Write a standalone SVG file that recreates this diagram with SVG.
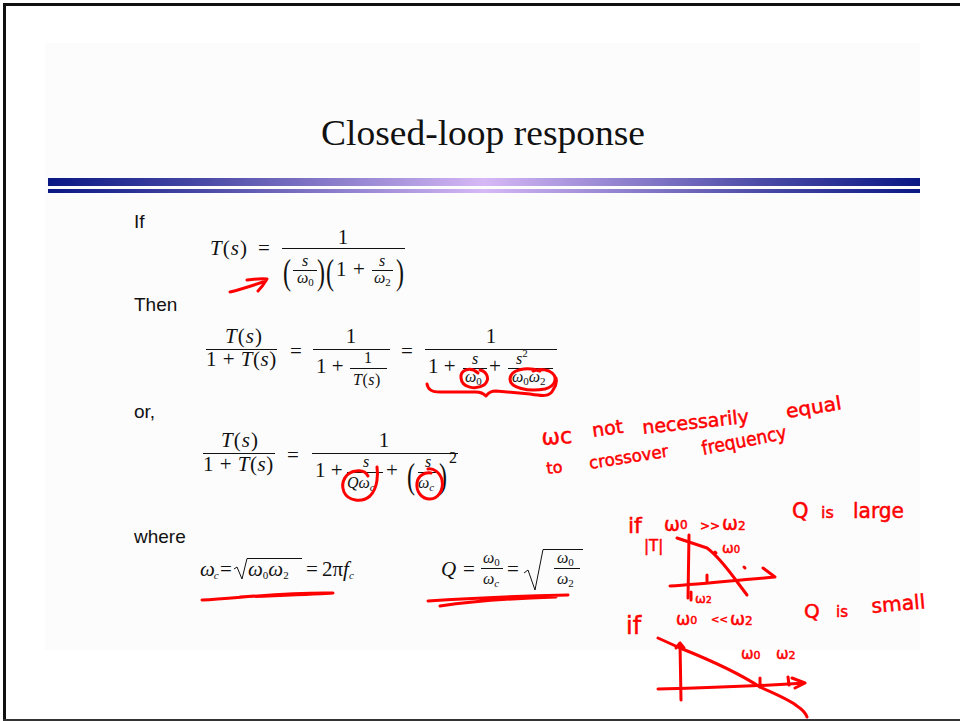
<svg xmlns="http://www.w3.org/2000/svg" width="960" height="721" viewBox="0 0 960 721">
  <defs>
    <linearGradient id="barGrad" x1="0" y1="0" x2="1" y2="0">
      <stop offset="0" stop-color="#0a1884"/>
      <stop offset="0.18" stop-color="#4a4aa6"/>
      <stop offset="0.5" stop-color="#d6b8f6"/>
      <stop offset="0.82" stop-color="#4a4aa6"/>
      <stop offset="1" stop-color="#0a1884"/>
    </linearGradient>
    <style>
      .body { font-family: "Liberation Sans", Arial, sans-serif; font-size: 19px; fill: #111; }
      .m { font-family: "Liberation Serif", "Times New Roman", serif; font-size: 21px; fill: #111; }
      .s { font-family: "Liberation Serif", "Times New Roman", serif; font-size: 16px; fill: #111; }
      .p { font-family: "Liberation Serif", "Times New Roman", serif; font-size: 24px; fill: #111; }
      .i { font-style: italic; }
      .sub { font-size: 11px; }
      .bar { stroke: #111; stroke-width: 1; }
      .rad { stroke: #111; stroke-width: 1; fill: none; }
      .ink { stroke: #ff0000; stroke-width: 3; fill: none; stroke-linecap: round; stroke-linejoin: round; }
      .hw { font-family: "DejaVu Sans", "Liberation Sans", sans-serif; fill: #ff0000; stroke: #ff0000; stroke-width: 0.5; }
    </style>
  </defs>

  <!-- page -->
  <rect x="0" y="0" width="960" height="721" fill="#ffffff"/>
  <rect x="45" y="43" width="875" height="607" fill="#fcfcfc"/>
  <line x1="4.5" y1="3" x2="4.5" y2="721" stroke="#111" stroke-width="3"/>
  <line x1="3" y1="4.5" x2="960" y2="4.5" stroke="#111" stroke-width="3"/>
  <line x1="3" y1="720" x2="960" y2="720" stroke="#333" stroke-width="2"/>

  <!-- title and rule -->
  <g id="title">
    <text x="483" y="145" text-anchor="middle" font-family="Liberation Serif, Times New Roman, serif" font-size="35" fill="#111" textLength="324" lengthAdjust="spacingAndGlyphs">Closed-loop response</text>
    <rect x="48" y="178" width="872" height="8" fill="url(#barGrad)"/>
    <rect x="48" y="189" width="872" height="4" fill="url(#barGrad)"/>
  </g>

  <!-- body labels -->
  <g id="labels">
    <text class="body" x="134" y="228">If</text>
    <text class="body" x="134" y="311">Then</text>
    <text class="body" x="134" y="418">or,</text>
    <text class="body" x="134" y="543">where</text>
  </g>

  <!-- T(s) = 1 / ((s/w0)(1 + s/w2)) -->
  <g id="eq-loop-gain">
    <text class="m" x="210" y="255" letter-spacing="1"><tspan class="i">T</tspan>(<tspan class="i">s</tspan>)</text>
    <text class="m" x="258" y="255">=</text>
    <line class="bar" x1="282" y1="248.5" x2="405" y2="248.5"/>
    <text class="m" x="343" y="244" text-anchor="middle">1</text>
    <text class="p" transform="translate(283 284) scale(1 1.45)">(</text>
    <text class="s i" x="305" y="266" text-anchor="middle">s</text>
    <line class="bar" x1="293" y1="270.5" x2="317" y2="270.5"/>
    <text class="s" x="297" y="283"><tspan class="i">ω</tspan><tspan class="sub" dy="3">0</tspan></text>
    <text class="p" transform="translate(317 284) scale(1 1.45)">)</text>
    <text class="p" transform="translate(326 284) scale(1 1.45)">(</text>
    <text class="m" x="336" y="276">1</text>
    <text class="m" x="353" y="276">+</text>
    <text class="s i" x="382" y="266" text-anchor="middle">s</text>
    <line class="bar" x1="372" y1="270.5" x2="393" y2="270.5"/>
    <text class="s" x="374" y="283"><tspan class="i">ω</tspan><tspan class="sub" dy="3">2</tspan></text>
    <text class="p" transform="translate(396 284) scale(1 1.45)">)</text>
  </g>

  <!-- T/(1+T) = 1/(1+1/T) = 1/(1 + s/w0 + s^2/(w0 w2)) -->
  <g id="eq-closed-loop">
    <text class="m" x="225" y="343" letter-spacing="1"><tspan class="i">T</tspan>(<tspan class="i">s</tspan>)</text>
    <line class="bar" x1="206" y1="349.5" x2="277" y2="349.5"/>
    <text class="m" x="206" y="366" letter-spacing="0.5">1 + <tspan class="i">T</tspan>(<tspan class="i">s</tspan>)</text>
    <text class="m" x="290" y="358">=</text>
    <text class="m" x="351" y="343" text-anchor="middle">1</text>
    <line class="bar" x1="313" y1="349.5" x2="390" y2="349.5"/>
    <text class="m" x="316" y="373">1 +</text>
    <text class="s" x="368" y="363" text-anchor="middle">1</text>
    <line class="bar" x1="350" y1="368.5" x2="387" y2="368.5"/>
    <text class="s" x="353" y="385" letter-spacing="0.5"><tspan class="i">T</tspan>(<tspan class="i">s</tspan>)</text>
    <text class="m" x="401" y="358">=</text>
    <text class="m" x="491" y="343" text-anchor="middle">1</text>
    <line class="bar" x1="425" y1="349.5" x2="557" y2="349.5"/>
    <text class="m" x="428" y="373">1 +</text>
    <text class="s i" x="475" y="364" text-anchor="middle">s</text>
    <line class="bar" x1="463" y1="368.5" x2="487" y2="368.5"/>
    <text class="s" x="465" y="382"><tspan class="i">ω</tspan><tspan class="sub" dy="3">0</tspan></text>
    <text class="m" x="489" y="373">+</text>
    <text class="s" x="516" y="364"><tspan class="i">s</tspan><tspan class="sub" dy="-7">2</tspan></text>
    <line class="bar" x1="508" y1="368.5" x2="553" y2="368.5"/>
    <text class="s" x="512" y="382"><tspan class="i">ω</tspan><tspan class="sub" dy="3">0</tspan><tspan class="i" dy="-3">ω</tspan><tspan class="sub" dy="3">2</tspan></text>
  </g>

  <!-- T/(1+T) = 1/(1 + s/(Q wc) + (s/wc)^2) -->
  <g id="eq-second-order">
    <text class="m" x="221" y="447" letter-spacing="1"><tspan class="i">T</tspan>(<tspan class="i">s</tspan>)</text>
    <line class="bar" x1="203" y1="453.5" x2="275" y2="453.5"/>
    <text class="m" x="203" y="471" letter-spacing="0.5">1 + <tspan class="i">T</tspan>(<tspan class="i">s</tspan>)</text>
    <text class="m" x="287" y="462">=</text>
    <text class="m" x="384" y="447" text-anchor="middle">1</text>
    <line class="bar" x1="312" y1="453.5" x2="458" y2="453.5"/>
    <text class="m" x="315" y="477">1 +</text>
    <text class="s i" x="366" y="467" text-anchor="middle">s</text>
    <line class="bar" x1="347" y1="472.5" x2="383" y2="472.5"/>
    <text class="s" x="347" y="488"><tspan class="i">Q</tspan><tspan class="i">ω</tspan><tspan class="sub i" dy="3">c</tspan></text>
    <text class="m" x="386" y="477">+</text>
    <text class="p" transform="translate(407 488) scale(1 1.45)">(</text>
    <text class="s i" x="428" y="467" text-anchor="middle">s</text>
    <line class="bar" x1="418" y1="472.5" x2="438" y2="472.5"/>
    <text class="s" x="418" y="488"><tspan class="i">ω</tspan><tspan class="sub i" dy="3">c</tspan></text>
    <text class="p" transform="translate(439 488) scale(1 1.45)">)</text>
    <text class="s" x="449" y="463" font-size="12">2</text>
  </g>

  <!-- wc and Q definitions -->
  <g id="eq-definitions">
    <text class="m" x="200" y="576"><tspan class="i">ω</tspan><tspan class="sub i" dy="3" dx="-1">c</tspan></text>
    <text class="m" x="220" y="576">=</text>
    <polyline class="rad" points="234,569 237,567 242,579 247,558.5 302,558.5"/>
    <text class="m" x="248" y="576"><tspan class="i">ω</tspan><tspan class="sub" dy="3">0</tspan><tspan class="i" dy="-3">ω</tspan><tspan class="sub" dy="3">2</tspan></text>
    <text class="m" x="306" y="576">=</text>
    <text class="m" x="322" y="576">2π<tspan class="i">f</tspan><tspan class="sub i" dy="3">c</tspan></text>

    <text class="m i" x="441" y="576">Q</text>
    <text class="m" x="463" y="576">=</text>
    <text class="s" x="483" y="563"><tspan class="i">ω</tspan><tspan class="sub" dy="3">0</tspan></text>
    <line class="bar" x1="481" y1="568.5" x2="503" y2="568.5"/>
    <text class="s" x="483" y="584"><tspan class="i">ω</tspan><tspan class="sub i" dy="3">c</tspan></text>
    <text class="m" x="507" y="576">=</text>
    <polyline class="rad" points="524,573 528,570 535,590 543,549.5 583,549.5"/>
    <text class="s" x="557" y="563"><tspan class="i">ω</tspan><tspan class="sub" dy="3">0</tspan></text>
    <line class="bar" x1="554" y1="568.5" x2="580" y2="568.5"/>
    <text class="s" x="557" y="584"><tspan class="i">ω</tspan><tspan class="sub" dy="3">2</tspan></text>
  </g>

  <!-- red pen marks on the equations -->
  <g id="connectors">
    <path class="ink" d="M230,292 C242,289 254,285 263,282 M247,280 C254,279 261,278 267,279 C264,284 261,288 258,291"/>
    <path class="ink" d="M478,373 C470,366 460,370 461,378 C462,388 476,390 484,385 C490,380 488,372 480,370"/>
    <path class="ink" d="M540,371 C526,366 510,370 510,379 C510,388 528,392 545,389 C556,386 559,376 549,371 C544,369 538,369 533,371"/>
    <path class="ink" d="M427,384 C428,390 432,392 440,392 L476,392 C482,392 484,394 486,396 C488,393 490,391 496,391 L530,394 C542,396 550,397 553,390 C556,386 557,382 556,378"/>
    <path class="ink" d="M377,467 C378,474 378,488 370,496 C362,503 348,501 344,492 C340,482 346,472 356,471 C362,470 366,472 368,476"/>
    <path class="ink" d="M428,469 C433,468 440,472 442,480 C444,490 438,499 430,499 C421,499 416,491 417,483 C418,476 424,472 431,473"/>
    <path class="ink" d="M202,600 C240,598 285,592 333,593 C320,594 290,595 240,597"/>
    <path class="ink" d="M428,601 C470,598 520,596 568,595 M440,606 C480,600 520,598 556,597"/>
  </g>

  <!-- handwritten note about wc -->
  <g id="note-crossover">
    <text class="hw" x="542" y="445" font-size="22" transform="rotate(-4 542 445)">ωc</text>
    <text class="hw" x="593" y="437" font-size="19" transform="rotate(-8 593 437)">not</text>
    <text class="hw" x="643" y="434" font-size="19" textLength="107" lengthAdjust="spacingAndGlyphs" transform="rotate(-6 643 434)">necessarily</text>
    <text class="hw" x="787" y="418" font-size="19" textLength="56" lengthAdjust="spacingAndGlyphs" transform="rotate(-9 787 418)">equal</text>
    <text class="hw" x="547" y="474" font-size="16" transform="rotate(-6 547 474)">to</text>
    <text class="hw" x="590" y="469" font-size="17" textLength="80" lengthAdjust="spacingAndGlyphs" transform="rotate(-9 590 469)">crossover</text>
    <text class="hw" x="703" y="455" font-size="19" textLength="86" lengthAdjust="spacingAndGlyphs" transform="rotate(-11 703 455)">frequency</text>
  </g>

  <!-- sketch: w0 >> w2, Q large -->
  <g id="sketch-q-large">
    <text class="hw" x="628" y="533" font-size="22">if</text>
    <text class="hw" x="664" y="531" font-size="19">ω<tspan font-size="12" dy="-2">0</tspan></text>
    <text class="hw" x="700" y="530" font-size="12">&gt;&gt;</text>
    <text class="hw" x="722" y="530" font-size="19">ω<tspan font-size="12">2</tspan></text>
    <text class="hw" x="792" y="518" font-size="21">Q</text>
    <text class="hw" x="821" y="518" font-size="16">is</text>
    <text class="hw" x="853" y="518" font-size="21" textLength="51" lengthAdjust="spacingAndGlyphs">large</text>
    <text class="hw" x="644" y="551" font-size="15">|T|</text>
    <text class="hw" x="722" y="553" font-size="14">ω<tspan font-size="10">0</tspan></text>
    <text class="hw" x="695" y="603" font-size="13">ω<tspan font-size="9">2</tspan></text>
    <path class="ink" d="M689,535 L688,598"/>
    <path class="ink" d="M670,586 C700,584 740,580 775,577 L763,568"/>
    <path class="ink" d="M677,538 L707,548 C718,556 730,572 738,583 L747,595"/>
    <path class="ink" d="M707,575 L707,581 M691,592 L691,600 M715,552 L716,553 M744,567 L745,568"/>
  </g>

  <!-- sketch: w0 << w2, Q small -->
  <g id="sketch-q-small">
    <text class="hw" x="626" y="634" font-size="24">if</text>
    <text class="hw" x="676" y="625" font-size="17">ω<tspan font-size="11" dy="-1">0</tspan></text>
    <text class="hw" x="711" y="623" font-size="10">&lt;&lt;</text>
    <text class="hw" x="730" y="625" font-size="18">ω<tspan font-size="12">2</tspan></text>
    <text class="hw" x="804" y="618" font-size="20">Q</text>
    <text class="hw" x="836" y="617" font-size="15">is</text>
    <text class="hw" x="872" y="613" font-size="20" textLength="54" lengthAdjust="spacingAndGlyphs" transform="rotate(-5 872 613)">small</text>
    <text class="hw" x="741" y="659" font-size="15">ω<tspan font-size="11">0</tspan></text>
    <text class="hw" x="776" y="659" font-size="15">ω<tspan font-size="11">2</tspan></text>
    <path class="ink" d="M680,643 L681,700 M676,648 L680,643 L684,648"/>
    <path class="ink" d="M658,689 C700,688 760,686 805,683 L792,678 M795,688 L805,683"/>
    <path class="ink" d="M658,638 L680,648 C710,660 740,674 760,687 C775,694 790,700 797,706 C803,710 806,714 807,717"/>
    <path class="ink" d="M760,678 L760,687 M788,677 L789,685"/>
  </g>
</svg>
